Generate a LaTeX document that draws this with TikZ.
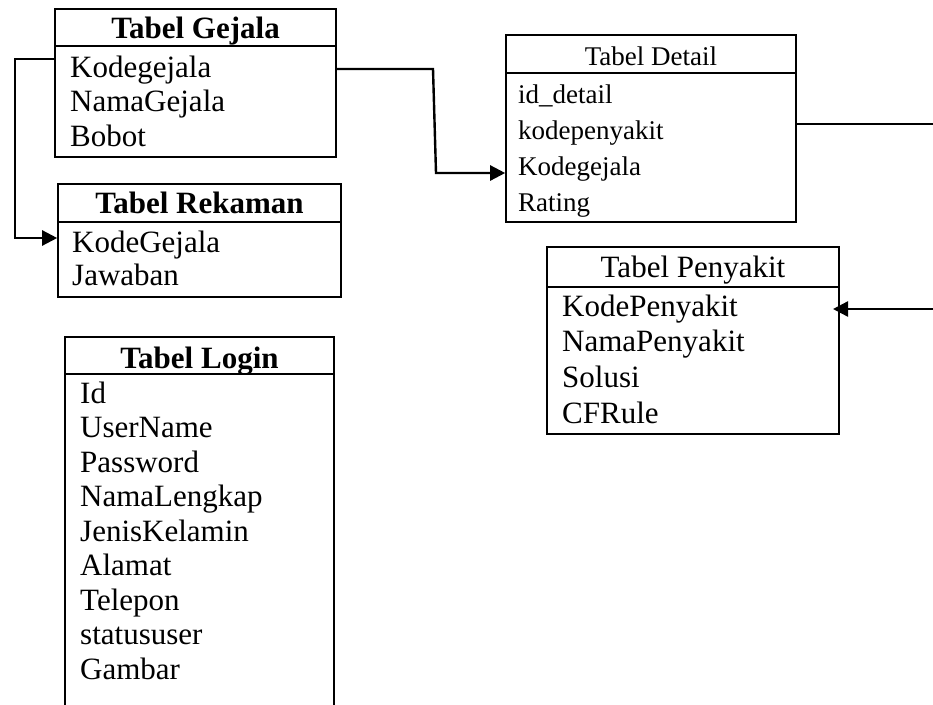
\documentclass[tikz,border=0pt]{standalone}
\usepackage{fontspec}
\setmainfont{Liberation Serif}
\usetikzlibrary{arrows.meta}
\begin{document}
\begin{tikzpicture}[x=1pt,y=-1pt,
  tbox/.style={draw=black, line width=1.6pt, rectangle, inner sep=0pt},
  fld/.style={anchor=base west, inner sep=0pt, font=\fontsize{31}{34}\selectfont},
  fldsm/.style={anchor=base west, inner sep=0pt, font=\fontsize{27}{30}\selectfont},
  hdr/.style={anchor=base, inner sep=0pt, font=\fontsize{31}{34}\selectfont\bfseries},
  hdrn/.style={anchor=base, inner sep=0pt, font=\fontsize{31}{34}\selectfont},
  hdrsm/.style={anchor=base, inner sep=0pt, font=\fontsize{27}{30}\selectfont},
  sep/.style={line width=1.6pt},
  arr/.style={line width=2.4pt, -{Triangle[length=15pt,width=15pt]}}]
\clip (0,0) rectangle (933,704);
\fill[white] (0,0) rectangle (933,704);

% Tabel Gejala
\node[tbox, minimum width=281pt, minimum height=148pt] (gej) at (195.5,83) {};
\draw[sep] (55,46) -- (336,46);
\node[hdr] (gejh) at (195.5,38) {Tabel Gejala};
\node[fld] (g1) at (70,77) {Kodegejala};
\node[fld] (g2) at (70,111.5) {NamaGejala};
\node[fld] (g3) at (70,146) {Bobot};

% Tabel Rekaman
\node[tbox, minimum width=283pt, minimum height=113pt] (rek) at (199.5,240.5) {};
\draw[sep] (58,222) -- (341,222);
\node[hdr] (rekh) at (199.5,213) {Tabel Rekaman};
\node[fld] (r1) at (72,252) {KodeGejala};
\node[fld] (r2) at (72,285) {Jawaban};

% Tabel Login
\node[tbox, minimum width=269pt, minimum height=393pt] (log) at (199.5,533.5) {};
\draw[sep] (65,374) -- (334,374);
\node[hdr] (logh) at (199.5,368) {Tabel Login};
\node[fld] (l1) at (80,403) {Id};
\node[fld] (l2) at (80,437.5) {UserName};
\node[fld] (l3) at (80,472) {Password};
\node[fld] (l4) at (80,506.5) {NamaLengkap};
\node[fld] (l5) at (80,541) {JenisKelamin};
\node[fld] (l6) at (80,575.5) {Alamat};
\node[fld] (l7) at (80,610) {Telepon};
\node[fld] (l8) at (80,644.5) {statususer};
\node[fld] (l9) at (80,679) {Gambar};

% Tabel Detail
\node[tbox, minimum width=290pt, minimum height=187pt] (det) at (651,128.5) {};
\draw[sep] (506,73) -- (796,73);
\node[hdrsm] (deth) at (651,65) {Tabel Detail};
\node[fldsm] (d1) at (518,103) {id\_detail};
\node[fldsm] (d2) at (518,139) {kodepenyakit};
\node[fldsm] (d3) at (518,175) {Kodegejala};
\node[fldsm] (d4) at (518,211) {Rating};

% Tabel Penyakit
\node[tbox, minimum width=292pt, minimum height=187pt] (pen) at (693,340.5) {};
\draw[sep] (547,287) -- (839,287);
\node[hdrn] (penh) at (693,277) {Tabel Penyakit};
\node[fld] (p1) at (562,316) {KodePenyakit};
\node[fld] (p2) at (562,351) {NamaPenyakit};
\node[fld] (p3) at (562,387) {Solusi};
\node[fld] (p4) at (562,423) {CFRule};

% connectors
\coordinate (pk) at (833,309);
\draw[arr] (gej.west |- 0,59) -- (15,59) -- (15,238) -- (rek.west |- 0,238);
\draw[arr] (gej.east |- 0,69) -- (433,69) -- (436,173) -- (det.west |- 0,173);
\draw[arr] (det.east |- 0,124) -- (960,124) -- (960,309) -- (pk);
\end{tikzpicture}
\end{document}
